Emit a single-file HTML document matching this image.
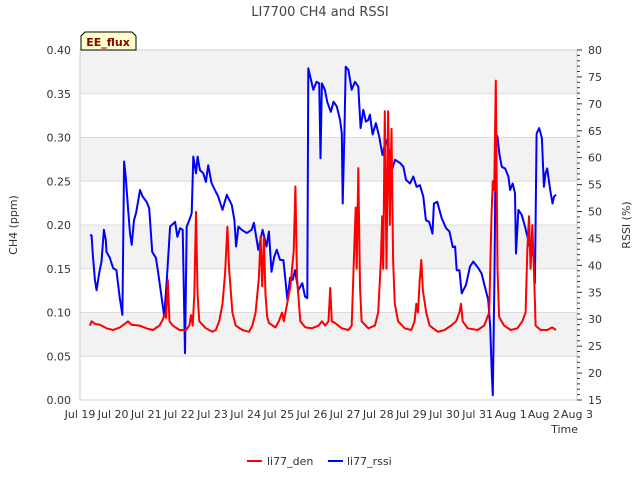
<!DOCTYPE html>
<html><head><meta charset="utf-8"><style>
body{margin:0;background:#fff;font-family:"Liberation Sans","DejaVu Sans",sans-serif}
text{font-family:"DejaVu Sans","Liberation Sans",sans-serif}
</style></head><body>
<svg id="c" width="640" height="480" xmlns="http://www.w3.org/2000/svg">
<g id="grid"></g>
<g id="axes"></g>
<g id="series"></g>
<text x="320" y="16" text-anchor="middle" font-size="13" fill="#444">LI7700 CH4 and RSSI</text>
<text transform="translate(17,225) rotate(-90)" text-anchor="middle" font-size="11" fill="#333">CH4 (ppm)</text>
<text transform="translate(630,225) rotate(-90)" text-anchor="middle" font-size="11" fill="#333">RSSI (%)</text>
<text x="578" y="433" text-anchor="end" font-size="11" fill="#333">Time</text>
<g>
<path d="M81,50 L81,36 L85,32 L132,32 L136,36 L136,50 Z" fill="#ffffcc" stroke="#000" stroke-width="1"/>
<text x="108" y="46" text-anchor="middle" font-size="11" font-weight="bold" fill="#8b0000">EE_flux</text>
</g>
<g>
<line x1="247" y1="461" x2="262" y2="461" stroke="red" stroke-width="2"/>
<text x="267" y="465" font-size="11" fill="#333">li77_den</text>
<line x1="328" y1="461" x2="343" y2="461" stroke="blue" stroke-width="2"/>
<text x="347" y="465" font-size="11" fill="#333">li77_rssi</text>
</g>
</svg>
<script>
const xLabels=["Jul 19","Jul 20","Jul 21","Jul 22","Jul 23","Jul 24","Jul 25","Jul 26","Jul 27","Jul 28","Jul 29","Jul 30","Jul 31","Aug 1","Aug 2","Aug 3"];
const leftTicks=[0,0.05,0.1,0.15,0.2,0.25,0.3,0.35,0.4];
const rightTicks=[15,20,25,30,35,40,45,50,55,60,65,70,75,80];
const denDays=[0.3,0.35,0.45,0.6,0.8,1.0,1.2,1.35,1.45,1.55,1.8,2.0,2.2,2.4,2.5,2.55,2.6,2.65,2.7,2.8,3.0,3.2,3.3,3.35,3.4,3.45,3.5,3.55,3.6,3.8,4.0,4.1,4.2,4.3,4.38,4.45,4.5,4.6,4.7,4.9,5.1,5.2,5.3,5.4,5.45,5.5,5.55,5.6,5.65,5.7,5.9,6.0,6.1,6.15,6.25,6.35,6.45,6.5,6.55,6.65,6.8,7.0,7.2,7.3,7.4,7.5,7.55,7.6,7.7,7.9,8.1,8.2,8.28,8.32,8.35,8.4,8.45,8.5,8.7,8.9,9.0,9.08,9.12,9.15,9.2,9.25,9.3,9.35,9.4,9.45,9.5,9.6,9.8,10.0,10.1,10.15,10.2,10.25,10.3,10.35,10.45,10.55,10.8,11.0,11.2,11.35,11.45,11.5,11.55,11.7,12.0,12.2,12.35,12.42,12.46,12.5,12.55,12.6,12.65,12.8,13.0,13.2,13.35,13.45,13.5,13.55,13.6,13.65,13.7,13.75,13.9,14.1,14.25,14.37];
const denValues=[0.085,0.09,0.087,0.086,0.082,0.08,0.083,0.087,0.09,0.086,0.085,0.082,0.08,0.085,0.092,0.098,0.094,0.137,0.09,0.085,0.08,0.08,0.085,0.097,0.085,0.12,0.215,0.12,0.09,0.082,0.078,0.08,0.09,0.11,0.145,0.198,0.15,0.1,0.085,0.08,0.078,0.085,0.1,0.14,0.187,0.13,0.185,0.12,0.095,0.088,0.083,0.09,0.1,0.09,0.11,0.13,0.17,0.244,0.14,0.09,0.083,0.082,0.085,0.09,0.085,0.09,0.128,0.09,0.088,0.082,0.08,0.085,0.175,0.22,0.15,0.265,0.13,0.09,0.082,0.085,0.1,0.16,0.21,0.15,0.33,0.15,0.33,0.2,0.31,0.16,0.11,0.09,0.082,0.08,0.09,0.11,0.1,0.135,0.16,0.125,0.1,0.085,0.078,0.08,0.085,0.09,0.1,0.11,0.09,0.082,0.08,0.085,0.1,0.21,0.25,0.24,0.365,0.15,0.095,0.085,0.08,0.082,0.09,0.1,0.17,0.21,0.15,0.2,0.15,0.085,0.08,0.08,0.083,0.08];
const rssiDays=[0.3,0.35,0.38,0.45,0.5,0.58,0.65,0.72,0.78,0.8,0.9,1.0,1.1,1.2,1.28,1.33,1.38,1.46,1.51,1.56,1.63,1.69,1.76,1.81,1.89,2.01,2.09,2.18,2.29,2.36,2.46,2.54,2.62,2.72,2.87,2.94,3.02,3.1,3.17,3.22,3.3,3.37,3.42,3.5,3.55,3.62,3.72,3.8,3.87,3.97,4.07,4.17,4.3,4.43,4.58,4.66,4.71,4.78,4.88,5.03,5.18,5.25,5.38,5.51,5.63,5.7,5.78,5.86,5.94,6.04,6.14,6.26,6.34,6.42,6.49,6.59,6.71,6.79,6.86,6.89,7.04,7.14,7.22,7.26,7.3,7.39,7.46,7.57,7.65,7.75,7.85,7.9,7.93,7.98,8.02,8.1,8.2,8.3,8.4,8.47,8.55,8.63,8.7,8.75,8.83,8.93,9.03,9.13,9.23,9.36,9.41,9.51,9.66,9.76,9.84,9.96,10.06,10.16,10.26,10.36,10.44,10.54,10.64,10.68,10.78,10.92,11.05,11.15,11.25,11.32,11.37,11.45,11.52,11.65,11.77,11.87,12.02,12.12,12.22,12.32,12.38,12.43,12.46,12.51,12.55,12.6,12.66,12.73,12.83,12.93,12.98,13.06,13.13,13.16,13.23,13.33,13.43,13.53,13.63,13.7,13.73,13.78,13.86,13.94,14.0,14.05,14.1,14.19,14.26,14.31,14.37];
const rssiValues=[45.6,45.6,42.5,37.3,35.4,38.6,40.7,46.6,44.7,42.5,41.4,39.5,39.1,33.9,30.8,59.3,56.5,49.7,46.0,43.8,48.4,49.7,52.1,54.0,52.8,51.8,50.6,42.5,41.4,38.6,34.2,30.5,37.3,47.2,48.1,45.3,46.9,46.6,23.7,47.2,48.4,49.7,60.2,57.1,60.2,57.7,57.1,55.5,58.6,55.3,54.0,52.8,50.3,53.1,51.2,48.4,43.5,47.2,46.6,46.0,46.6,47.9,42.9,46.6,43.5,46.3,38.8,41.6,42.9,41.0,41.0,33.6,37.7,37.3,39.1,35.4,36.7,34.2,33.9,76.6,72.6,74.1,73.8,59.9,73.8,72.6,70.4,68.5,70.4,69.5,67.0,64.5,51.5,64.5,76.9,76.3,72.6,74.1,73.2,65.5,68.9,66.7,67.0,68.0,64.3,66.4,63.9,60.5,63.3,60.8,57.7,59.6,59.0,58.3,55.9,55.2,56.5,54.6,54.9,52.8,48.4,48.1,45.9,51.5,51.8,48.7,46.9,46.3,43.4,43.5,39.1,39.1,34.8,36.4,39.8,40.7,39.5,38.5,36.0,33.6,28.6,19.9,15.9,38.5,64.5,63.9,60.5,58.3,58.0,56.5,54.0,55.2,53.4,42.2,50.3,49.4,47.2,44.7,42.2,41.6,36.7,64.5,65.5,63.6,54.6,57.1,58.0,54.0,51.5,52.8,53.1];

const L=80,R=577,T=50,B=400,NS="http://www.w3.org/2000/svg";
const xS=d=>L+d*(R-L)/15;
const yL=v=>B-v*(B-T)/0.4;
const yR=v=>B-(v-15)*(B-T)/65;
function mk(tag,attrs,parent){const e=document.createElementNS(NS,tag);for(const k in attrs)e.setAttribute(k,attrs[k]);document.getElementById(parent).appendChild(e);return e;}
// grid bands
for(let i=0;i<leftTicks.length-1;i++){
  if(i%2===1){const b=mk('rect',{x:L,y:yL(leftTicks[i+1]),width:R-L,height:yL(leftTicks[i])-yL(leftTicks[i+1]),fill:'#f2f2f2'},'grid');
  
  }
}
leftTicks.forEach(t=>{
  const g=mk('line',{x1:L,x2:R,y1:yL(t),y2:yL(t),stroke:'#dcdcdc','stroke-width':1},'grid');
  
  
  const tx=mk('text',{x:L-9,y:yL(t)+4,'text-anchor':'end','font-size':11,fill:'#333'},'axes');
  tx.textContent=t.toFixed(2);
  
  
});
mk('rect',{x:L,y:T,width:R-L,height:B-T,fill:'none',stroke:'#d0d0d0'},'axes');
rightTicks.forEach(t=>{
  const tx=mk('text',{x:R+11,y:yR(t)+4,'font-size':11,fill:'#333'},'axes');
  tx.textContent=t;
  
  
});
for(let v=15;v<=80;v++){
  mk('line',{x1:R,x2:R+(v%5===0?5:3),y1:yR(v),y2:yR(v),stroke:'#333','stroke-width':1},'axes');
}
xLabels.forEach((s,i)=>{
  const tx=mk('text',{x:xS(i),y:418,'text-anchor':'middle','font-size':11,fill:'#333'},'axes');
  tx.textContent=s;
  
  
});
const rp=mk('polyline',{points:rssiDays.map((d,i)=>xS(d).toFixed(1)+','+yR(rssiValues[i]).toFixed(1)).join(' '),fill:'none',stroke:'blue','stroke-width':2,'stroke-linejoin':'round'},'series');


const dp=mk('polyline',{points:denDays.map((d,i)=>xS(d).toFixed(1)+','+yL(denValues[i]).toFixed(1)).join(' '),fill:'none',stroke:'red','stroke-width':2,'stroke-linejoin':'round'},'series');


</script>
</body></html>
